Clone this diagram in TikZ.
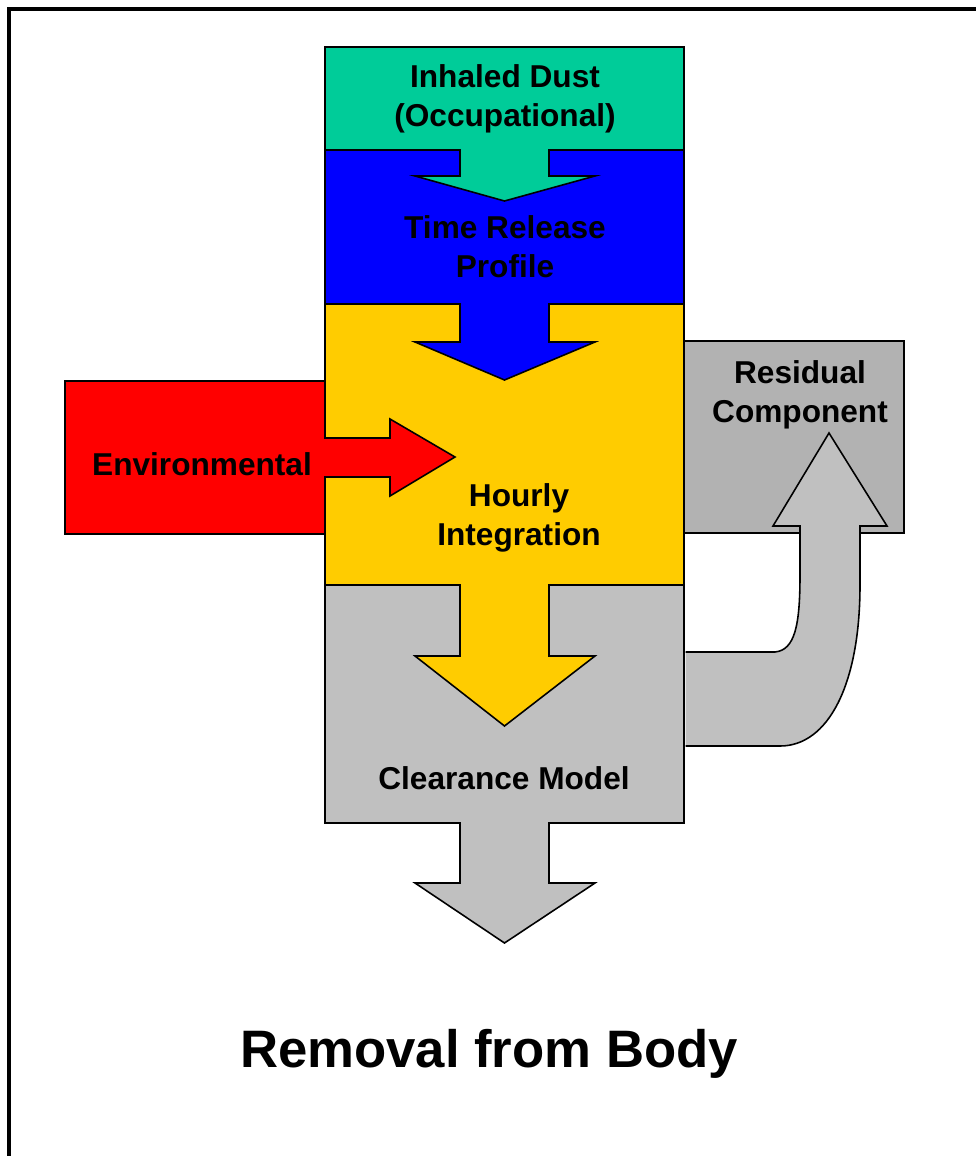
\documentclass[tikz,border=0pt]{standalone}
\usepackage{fontspec}
\setmainfont{Liberation Sans}
\usepackage{tikz}
\usetikzlibrary{calc}
\definecolor{dustgreen}{RGB}{0, 204, 153}
\definecolor{releaseblue}{RGB}{0, 0, 255}
\definecolor{hourlyyellow}{RGB}{255, 204, 0}
\definecolor{envred}{RGB}{255, 0, 0}
\definecolor{cleargray}{RGB}{192, 192, 192}
\definecolor{residgray}{RGB}{178, 178, 178}

\tikzset{
    box/.style={draw=black, line width=0.9pt},
    boxtext/.style={font=\fontsize{18}{22}\selectfont\bfseries, align=center, inner sep=0pt},
}

% down block arrow: colour, top, end of shaft, tip
\newcommand{\downblock}[4]{%
    \filldraw[box, fill=#1] (460,#2-1) -- (460,#3) -- (415,#3) -- (504.5,#4)
        -- (595,#3) -- (549,#3) -- (549,#2-1);
}

\begin{document}
\begin{tikzpicture}[x=0.02cm, y=-0.02cm]
\useasboundingbox (0,0) rectangle (976,1156);

% Frame
\draw[line width=2pt] (9,1170) -- (9,9) -- (990,9);

% Boxes
\draw[box, fill=envred] (65,381) rectangle (325,534);
\draw[box, fill=residgray] (684,341) rectangle (904,533);
\draw[box, fill=dustgreen] (325,47) rectangle (684,150);
\draw[box, fill=releaseblue] (325,150) rectangle (684,304);
\draw[box, fill=hourlyyellow] (325,304) rectangle (684,585);
\draw[box, fill=cleargray] (325,585) rectangle (684,823);

% Arrows down the column
\downblock{dustgreen}{150}{176}{201}
\downblock{releaseblue}{304}{342}{380}
\downblock{hourlyyellow}{585}{656}{726}
\downblock{cleargray}{823}{883}{943}

% Environmental input
\filldraw[box, fill=envred] (324,438) -- (390,438) -- (390,419) -- (455,457)
    -- (390,496) -- (390,477) -- (324,477);

% Residual return
\filldraw[box, fill=cleargray] (685.5,652) -- (775,652)
    .. controls (795,650) and (800,625) .. (800,575) -- (800,526)
    -- (773,526) -- (829,433) -- (887,526) -- (860,526) -- (860,585)
    .. controls (860,685) and (828,746) .. (780,746) -- (685.5,746);

% Labels
\node[boxtext] (dust) at (505,99) {Inhaled Dust\\(Occupational)};
\node[boxtext] (release) at (505,247) {Time Release\\Profile};
\node[boxtext] (hourly) at (519,518) {Hourly\\Integration};
\node[boxtext] (env) at (202,464) {Environmental};
\node[boxtext] (resid) at (800,395) {Residual\\Component};
\node[boxtext] (clear) at (504,778) {Clearance Model};
\node[font=\fontsize{30}{36}\selectfont\bfseries, inner sep=0pt] (removal) at (489,1054) {Removal from Body};
\end{tikzpicture}
\end{document}
